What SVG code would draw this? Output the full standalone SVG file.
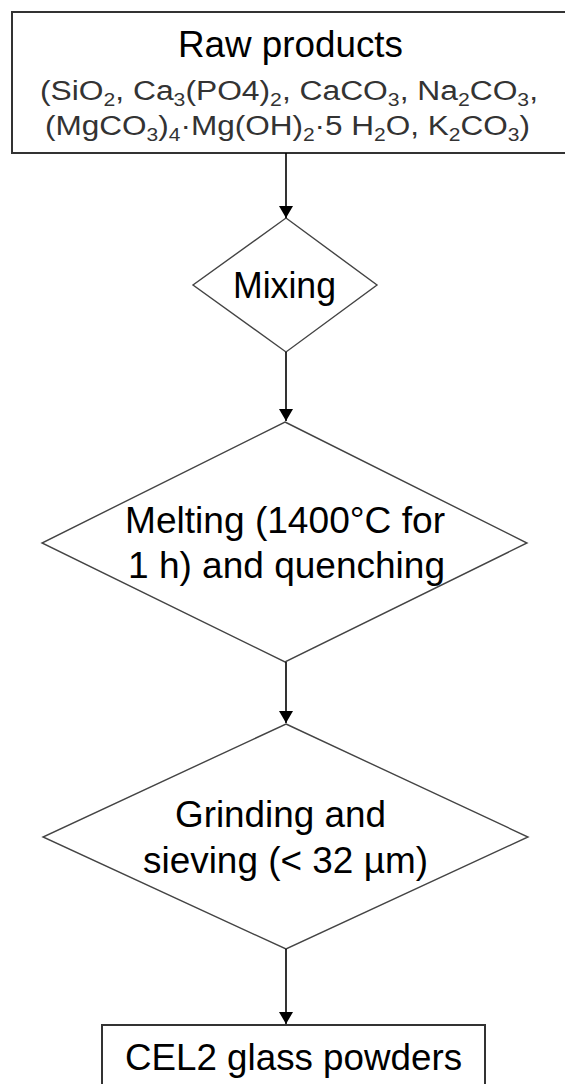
<svg xmlns="http://www.w3.org/2000/svg" width="565" height="1084" viewBox="0 0 565 1084">
<style>
  .lbl { font-family: "Liberation Sans", Arial, sans-serif; font-size: 36px; fill: #000; }
  .frm { font-family: "Liberation Sans", Arial, sans-serif; font-size: 27px; fill: #333; }
  .sub { font-size: 18px; }
  .box { fill: #fff; stroke: #333; stroke-width: 2; }
  .dia { fill: #fff; stroke: #444; stroke-width: 1.4; }
  .con { stroke: #000; stroke-width: 1.6; fill: none; marker-end: url(#ah); }
</style>
<defs>
  <marker id="ah" viewBox="0 0 12 14" refX="12" refY="7" markerWidth="12" markerHeight="14" markerUnits="userSpaceOnUse" orient="auto">
    <path d="M0,0 L12,7 L0,14 Z" fill="#000"/>
  </marker>
</defs>
<rect width="565" height="1084" fill="#fff"/>
<g id="raw">
  <rect class="box" x="12" y="12" width="560" height="141"/>
  <text class="lbl" x="178" y="57" textLength="225" lengthAdjust="spacingAndGlyphs">Raw products</text>
  <text class="frm" x="40" y="100" textLength="498" lengthAdjust="spacingAndGlyphs">(SiO<tspan class="sub" dy="6">2</tspan><tspan dy="-6">, Ca</tspan><tspan class="sub" dy="6">3</tspan><tspan dy="-6">(PO4)</tspan><tspan class="sub" dy="6">2</tspan><tspan dy="-6">, CaCO</tspan><tspan class="sub" dy="6">3</tspan><tspan dy="-6">, Na</tspan><tspan class="sub" dy="6">2</tspan><tspan dy="-6">CO</tspan><tspan class="sub" dy="6">3</tspan><tspan dy="-6">,</tspan></text>
  <text class="frm" x="45" y="135" textLength="485" lengthAdjust="spacingAndGlyphs">(MgCO<tspan class="sub" dy="6">3</tspan><tspan dy="-6">)</tspan><tspan class="sub" dy="6">4</tspan><tspan dy="-6">·Mg(OH)</tspan><tspan class="sub" dy="6">2</tspan><tspan dy="-6">·5 H</tspan><tspan class="sub" dy="6">2</tspan><tspan dy="-6">O, K</tspan><tspan class="sub" dy="6">2</tspan><tspan dy="-6">CO</tspan><tspan class="sub" dy="6">3</tspan><tspan dy="-6">)</tspan></text>
</g>
<g id="mixing">
  <polygon class="dia" points="286,218 377,285 286,352 193,285"/>
  <text class="lbl" x="233" y="298" textLength="103" lengthAdjust="spacingAndGlyphs">Mixing</text>
</g>
<g id="melting">
  <polygon class="dia" points="285,422 527,543 285,662 42,543"/>
  <text class="lbl" x="125" y="533" textLength="320" lengthAdjust="spacingAndGlyphs">Melting (1400°C for</text>
  <text class="lbl" x="128" y="578" textLength="317" lengthAdjust="spacingAndGlyphs">1 h) and quenching</text>
</g>
<g id="grinding">
  <polygon class="dia" points="286,724 528,837 286,949 43,837"/>
  <text class="lbl" x="175" y="827" textLength="211" lengthAdjust="spacingAndGlyphs">Grinding and</text>
  <text class="lbl" x="143" y="873" textLength="285" lengthAdjust="spacingAndGlyphs">sieving (&lt; 32 µm)</text>
</g>
<g id="cel2">
  <rect class="box" x="102" y="1025" width="383" height="70"/>
  <text class="lbl" x="125" y="1070" textLength="337" lengthAdjust="spacingAndGlyphs">CEL2 glass powders</text>
</g>
<g id="connectors">
  <line class="con" x1="286" y1="153" x2="286" y2="218"/>
  <line class="con" x1="286" y1="352" x2="286" y2="421"/>
  <line class="con" x1="286" y1="662" x2="286" y2="723"/>
  <line class="con" x1="286" y1="949" x2="286" y2="1024"/>
</g>
</svg>
